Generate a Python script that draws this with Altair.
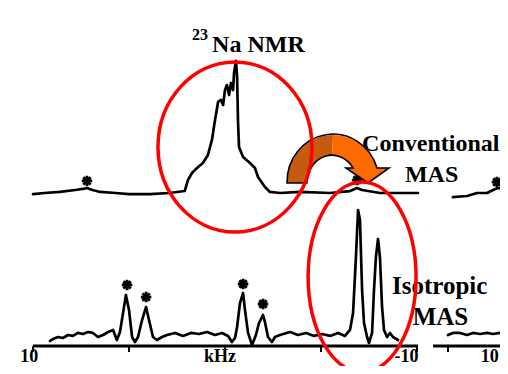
import altair as alt
import pandas as pd

# ---------------- data ----------------
# Conventional MAS spectrum (top trace): frequency (kHz) and intensity (a.u.)
top_khz = [10.0, 9.4, 8.6, 7.8, 7.4, 7.2, 6.9, 6.5, 5.7, 5.0, 3.9, 2.9, 2.1, 1.93, 1.72,
           1.46, 1.15, 0.89, 0.68, 0.52, 0.36, 0.21, 0.10, 0.00, -0.10, -0.21, -0.31,
           -0.42, -0.47, -0.57, -0.63, -0.68, -0.73, -0.94, -1.30, -1.56, -1.72, -2.08,
           -2.34, -2.86, -3.91, -5.47, -6.51, -6.88, -7.14, -8.07, -9.11, -10.05]
top_int = [-0.8, 0.0, 0.8, 2.3, 3.1, 3.8, 2.3, 0.8, 0.0, -0.8, -0.8, 0.0, 1.5, 9.9, 15.3,
           19.1, 22.9, 29.0, 40.5, 55.7, 69.5, 71.0, 67.2, 78.6, 82.4, 74.8, 84.0,
           78.6, 91.6, 100.8, 88.5, 53.4, 35.1, 27.5, 22.9, 19.1, 12.2, 4.6,
           0.8, 0.0, 0.8, 0.0, 1.5, 3.8, 2.3, 0.0, 0.0, 0.0]

# Isotropic MAS spectrum (bottom trace)
iso_khz = [9.11, 8.96, 8.70, 8.44, 8.18, 7.92, 7.66, 7.40, 7.14, 6.88,
           6.61, 6.35, 6.09, 5.83, 5.63, 5.47, 5.31, 5.16, 5.00, 4.84,
           4.69, 4.53, 4.32, 4.11, 3.96, 3.75, 3.54, 3.28, 3.02, 2.60,
           2.19, 1.77, 1.35, 0.94, 0.52, 0.16, -0.16, -0.36, -0.52, -0.63,
           -0.78, -0.94, -1.04, -1.20, -1.41, -1.61, -1.77, -1.98, -2.08, -2.24,
           -2.45, -2.60, -2.86, -3.39, -3.80, -4.22, -4.64, -5.05, -5.47, -5.89,
           -6.25, -6.51, -6.67, -6.82, -6.93, -7.03, -7.14, -7.24, -7.40, -7.50,
           -7.66, -7.76, -7.86, -7.97, -8.07, -8.18, -8.28, -8.44, -8.59, -8.75,
           -9.01]
iso_int = [3.7, 5.1, 6.6, 5.9, 8.1, 7.4, 9.6, 8.8, 10.3, 9.6,
           6.6, 8.1, 10.3, 11.8, 4.4, 10.3, 24.3, 37.5, 26.5, 6.6,
           2.9, 6.6, 19.1, 28.7, 19.1, 6.6, 4.4, 6.6, 8.1, 9.6,
           7.4, 9.6, 8.8, 10.3, 8.1, 9.6, 7.4, 2.9, 5.9, 14.0,
           31.6, 39.0, 26.5, 9.6, 0.7, 8.1, 16.9, 22.8, 17.6, 6.6,
           2.9, 6.6, 8.1, 10.3, 8.1, 9.6, 7.4, 8.8, 7.4, 9.6,
           7.4, 11.8, 24.3, 65.4, 100.0, 92.6, 41.2, 16.9, 6.6, 2.2,
           9.6, 41.2, 65.4, 78.7, 65.4, 28.7, 11.8, 6.6, 9.6, 6.6,
           4.4]

# spinning sidebands (asterisks)
top_star_khz = [7.19, -6.88]
top_star_int = [9.2, 9.9]
iso_star_khz = [5.10, 4.11, -0.94, -1.98]
iso_star_int = [44.9, 36.0, 45.6, 30.9]

# neighbouring panel, partly visible at the right edge
right_top_khz = [14.55, 13.27, 12.36, 11.45, 10.91, 10.45, 10.0, 9.55]
right_top_int = [-3.1, -2.3, 0.0, 0.0, 2.3, 3.8, 3.1, 3.8]
right_star_khz = [10.55]
right_star_int = [8.4]
right_iso_khz = [15.0, 14.55, 13.91, 13.27, 12.73, 12.09, 11.45, 10.91, 10.27, 9.64]
right_iso_int = [8.1, 9.6, 9.6, 8.1, 9.6, 8.8, 9.6, 8.8, 9.6, 10.3]

# axes
axis_span = [10, -10.05]
axis_ticks = [10, 5, 0, -5, -10]
axis_label_khz = [10.2, 0.26, -9.45]
axis_labels = ["10", "kHz", "-10"]
right_axis_span = [16.36, 9.0]
right_ticks = [15, 10]
right_label_khz = [11.2]
right_labels = ["10"]

# annotations
top_text = ["Conventional"]
top_text_khz = [-7.14]
top_text_int = [37.4]
top_center_text = ["Na NMR", "MAS"]
top_center_khz = [-1.74, -10.76]
top_center_int = [113.0, 13.7]
sup_text = ["23"]
sup_khz = [1.30]
sup_int = [120.6]
iso_text = ["Isotropic"]
iso_text_khz = [-8.70]
iso_text_int = [44.1]
iso_center_text = ["MAS"]
iso_center_khz = [-11.22]
iso_center_int = [21.3]

# highlight ellipses and arrow anchors
ell1_khz, ell1_int = [-0.52], [35.1]
ell2_khz, ell2_int = [-7.14], [50.7]
arrow_khz, arrow_int = [-5.73], [25.2]

assert len(top_khz) == len(top_int)
assert len(iso_khz) == len(iso_int)

# ---------------- scales ----------------
FONT = "Liberation Serif"
X_MAIN = alt.Scale(domain=[10, -10], range=[25, 409], zero=False, nice=False)
X_RIGHT = alt.Scale(domain=[15, 10], range=[440, 495], zero=False, nice=False)
Y_TOP = alt.Scale(domain=[0, 100], range=[185, 54], zero=False, nice=False)
Y_ISO = alt.Scale(domain=[0, 100], range=[338, 202], zero=False, nice=False)


def X(f, s):
    return alt.X(f"{f}:Q", scale=s, axis=None)


def Y(f, s):
    return alt.Y(f"{f}:Q", scale=s, axis=None)


def spectrum(ks, ys, xs, ysc, width=2.7):
    df = pd.DataFrame({"kHz": ks, "I": ys, "i": list(range(len(ks)))})
    return alt.Chart(df).mark_line(
        color="black", strokeWidth=width, strokeJoin="round", strokeCap="round"
    ).encode(x=X("kHz", xs), y=Y("I", ysc), order="i:Q")


STAR = "M0,-1L0,1M-1,0L1,0M-0.7,-0.7L0.7,0.7M-0.7,0.7L0.7,-0.7"


def stars(ks, ys, xs, ysc):
    df = pd.DataFrame({"kHz": ks, "I": ys})
    return alt.Chart(df).mark_point(
        shape=STAR, size=110, filled=False, color="black", strokeWidth=2.8, opacity=1
    ).encode(x=X("kHz", xs), y=Y("I", ysc))


def texts(labels, ks, ys, xs, ysc, **kw):
    df = pd.DataFrame({"t": labels, "kHz": ks, "I": ys})
    return alt.Chart(df).mark_text(font=FONT, fontWeight="bold", color="black", **kw).encode(
        x=X("kHz", xs), y=Y("I", ysc), text="t:N")


def axis_line(span, xs):
    df = pd.DataFrame({"a": [span[0]], "b": [span[1]], "I": [0]})
    return alt.Chart(df).mark_rule(color="black", strokeWidth=3).encode(
        x=X("a", xs), x2="b:Q", y=Y("I", Y_ISO))


def ticks(vals, xs):
    df = pd.DataFrame({"kHz": vals, "I0": [0] * len(vals), "I1": [-4.5] * len(vals)})
    return alt.Chart(df).mark_rule(color="black", strokeWidth=2).encode(
        x=X("kHz", xs), y=Y("I0", Y_ISO), y2="I1:Q")


def tick_labels(labels, ks, xs):
    df = pd.DataFrame({"t": labels, "kHz": ks, "I": [0] * len(ks)})
    return alt.Chart(df).mark_text(
        font=FONT, fontWeight="bold", fontSize=18, baseline="bottom", dy=19.5, color="black"
    ).encode(x=X("kHz", xs), y=Y("I", Y_ISO), text="t:N")


def shape(path, ks, ys, ysc, size, **kw):
    df = pd.DataFrame({"kHz": ks, "I": ys})
    return alt.Chart(df).mark_point(shape=path, size=size, opacity=1, **kw).encode(
        x=X("kHz", X_MAIN), y=Y("I", ysc))


ELL1 = "M-0.906,0A0.906,1 0 1,0 0.906,0A0.906,1 0 1,0 -0.906,0Z"
ELL2 = "M-0.568,0A0.568,1 0 1,0 0.568,0A0.568,1 0 1,0 -0.568,0Z"
ARROW_L = "M-0.8,0.383A0.767,0.8 0 0,1 -0.033,-0.417L-0.05,-0.083A0.417,0.467 0 0,0 -0.467,0.383Z"
ARROW_R = ("M-0.033,-0.417A0.767,0.8 0 0,1 0.7,0.133L0.9,0.133L0.55,0.383L0.183,0.133"
           "L0.3,0.133A0.417,0.467 0 0,0 -0.05,-0.083Z")
ARROW_O = ("M-0.8,0.383A0.767,0.8 0 0,1 0.7,0.133L0.9,0.133L0.55,0.383L0.183,0.133"
           "L0.3,0.133A0.417,0.467 0 0,0 -0.467,0.383Z")

layers = [
    axis_line(axis_span, X_MAIN),
    ticks(axis_ticks, X_MAIN),
    tick_labels(axis_labels, axis_label_khz, X_MAIN),
    axis_line(right_axis_span, X_RIGHT),
    ticks(right_ticks, X_RIGHT),
    tick_labels(right_labels, right_label_khz, X_RIGHT),
    spectrum(top_khz, top_int, X_MAIN, Y_TOP),
    spectrum(iso_khz, iso_int, X_MAIN, Y_ISO),
    spectrum(right_top_khz, right_top_int, X_RIGHT, Y_TOP),
    spectrum(right_iso_khz, right_iso_int, X_RIGHT, Y_ISO),
    stars(top_star_khz, top_star_int, X_MAIN, Y_TOP),
    stars(iso_star_khz, iso_star_int, X_MAIN, Y_ISO),
    stars(right_star_khz, right_star_int, X_RIGHT, Y_TOP),
    texts(top_text, top_text_khz, top_text_int, X_MAIN, Y_TOP, fontSize=24, align="left"),
    texts(top_center_text, top_center_khz, top_center_int, X_MAIN, Y_TOP, fontSize=24, align="center"),
    texts(sup_text, sup_khz, sup_int, X_MAIN, Y_TOP, fontSize=16, align="center"),
    texts(iso_text, iso_text_khz, iso_text_int, X_MAIN, Y_ISO, fontSize=25, align="left"),
    texts(iso_center_text, iso_center_khz, iso_center_int, X_MAIN, Y_ISO, fontSize=25, align="center"),
    shape(ARROW_L, arrow_khz, arrow_int, Y_TOP, 14400, filled=True, color="#C55A11"),
    shape(ARROW_R, arrow_khz, arrow_int, Y_TOP, 14400, filled=True, color="#FF6A00"),
    shape(ARROW_O, arrow_khz, arrow_int, Y_TOP, 14400, filled=False, color="black", strokeWidth=1.6),
    shape(ELL1, ell1_khz, ell1_int, Y_TOP, 28900, filled=False, color="#FF0000", strokeWidth=3.5),
    shape(ELL2, ell2_khz, ell2_int, Y_ISO, 36100, filled=False, color="#FF0000", strokeWidth=3.5),
]

chart = alt.layer(*layers).resolve_scale(x="independent", y="independent").properties(
    width=492, height=358, padding=0,
    autosize=alt.AutoSizeParams(type="none"),
    background="white",
).configure_view(stroke=None)

chart.save("out.html", embed_options={"renderer": "svg", "actions": False})
